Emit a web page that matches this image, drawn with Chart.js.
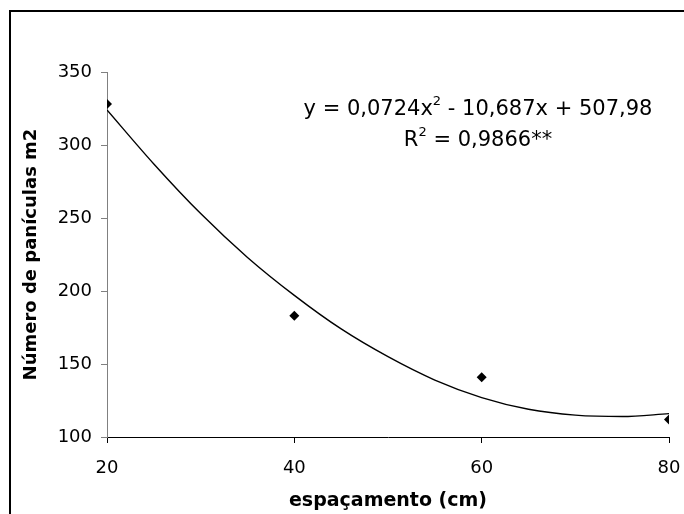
<!DOCTYPE html>
<html><head><meta charset="utf-8">
<script src="https://cdn.jsdelivr.net/npm/chart.js@4/dist/chart.umd.min.js"></script>
<style>
html,body{margin:0;padding:0;background:#fff;}
#wrap{position:relative;width:684px;height:514px;overflow:hidden;}
#frame{position:absolute;left:9px;top:10px;width:700px;height:540px;border:2px solid #000;box-sizing:border-box;}
canvas{position:absolute;left:0;top:0;}
</style></head>
<body><div id="wrap"><div id="frame"></div><canvas id="c" width="684" height="514"></canvas></div>
<script>
const spacing = [20, 40, 60, 80];
const panicles = [328, 183, 141, 112];
const trendX = [20, 25, 30, 35, 40, 45, 50, 55, 60, 65, 70, 75, 80];
const trendY = [324, 287, 253, 223, 197, 174, 155, 139, 127, 119, 115, 114, 116];
const yTicks = [100, 150, 200, 250, 300, 350];
const xTicks = [20, 40, 60, 80];
const eqLine1 = [["y = 0,0724x", false], ["2", true], [" - 10,687x + 507,98", false]];
const eqLine2 = [["R", false], ["2", true], [" = 0,9866**", false]];

const FONT = "'DejaVu Sans', sans-serif";

function drawRich(ctx, parts, cx, cy, size) {
  const main = size + 'px ' + FONT, sup = Math.round(size * 0.6) + 'px ' + FONT;
  let w = 0;
  parts.forEach(([t, s]) => { ctx.font = s ? sup : main; w += ctx.measureText(t).width; });
  let x = cx - w / 2;
  parts.forEach(([t, s]) => {
    ctx.font = s ? sup : main;
    ctx.fillText(t, x, s ? cy - size * 0.42 : cy);
    x += ctx.measureText(t).width;
  });
}

const eqPlugin = {
  id: 'eq',
  afterDraw(chart) {
    const ctx = chart.ctx;
    ctx.save();
    ctx.fillStyle = '#000';
    ctx.textAlign = 'left';
    ctx.textBaseline = 'middle';
    drawRich(ctx, eqLine1, 478, 110, 21);
    drawRich(ctx, eqLine2, 478, 141, 21);
    ctx.restore();
  }
};

new Chart(document.getElementById('c'), {
  type: 'scatter',
  data: {
    datasets: [
      {
        type: 'line',
        data: trendX.map((x, i) => ({x, y: trendY[i]})),
        borderColor: '#000',
        borderWidth: 1.4,
        pointRadius: 0,
        cubicInterpolationMode: 'monotone',
        fill: false
      },
      {
        data: spacing.map((x, i) => ({x, y: panicles[i]})),
        pointStyle: 'rectRot',
        pointRadius: 5,
        backgroundColor: '#000',
        borderColor: '#000',
        borderWidth: 0
      }
    ]
  },
  options: {
    responsive: false,
    animation: false,
    devicePixelRatio: 1,
    layout: { padding: { left: 0, right: 15, top: 72, bottom: 0 } },
    plugins: { legend: { display: false }, tooltip: { enabled: false } },
    scales: {
      x: {
        type: 'linear', min: 20, max: 80,
        afterBuildTicks: s => { s.ticks = xTicks.map(v => ({value: v})); },
        afterFit: s => { s.height = 77; s.paddingLeft = 0; s.paddingRight = 0; },
        grid: { drawOnChartArea: false, tickLength: 6, color: '#000' },
        border: { color: '#000', width: 1 },
        ticks: { color: '#000', font: { size: 18, family: FONT }, padding: 15, maxRotation: 0 },
        title: { display: true, text: 'espaçamento (cm)', color: '#000',
          font: { size: 19, weight: 'bold', family: FONT }, padding: { top: 0, bottom: 2 } }
      },
      y: {
        type: 'linear', min: 100, max: 350,
        afterBuildTicks: s => { s.ticks = yTicks.map(v => ({value: v})); },
        afterFit: s => { s.width = 107; s.paddingTop = 0; s.paddingBottom = 0; },
        grid: { drawOnChartArea: false, tickLength: 6, color: '#808080' },
        border: { color: '#808080', width: 1 },
        ticks: { color: '#000', font: { size: 18, family: FONT }, padding: 9 },
        title: { display: true, text: 'Número de panículas m2', color: '#000',
          font: { size: 18, weight: 'bold', family: FONT }, padding: { top: 21, bottom: 0 } }
      }
    }
  },
  plugins: [eqPlugin]
});
</script></body></html>
